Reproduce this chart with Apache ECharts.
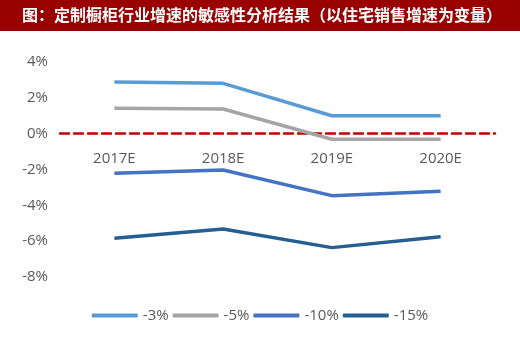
<!DOCTYPE html>
<html><head><meta charset="utf-8">
<script src="https://cdn.jsdelivr.net/npm/echarts@6/dist/echarts.min.js"></script>
<style>html,body{margin:0;padding:0;background:#fff}#c{width:520px;height:363px}</style>
</head><body><div id="c"></div>
<script>
var titleText = '图：定制橱柜行业增速的敏感性分析结果（以住宅销售增速为变量）';
var categories = ['2017E', '2018E', '2019E', '2020E'];
var seriesNames = ['-3%', '-5%', '-10%', '-15%'];
var s3 = [2.88, 2.81, 1.0, 1.0];
var s5 = [1.42, 1.38, -0.31, -0.31];
var s10 = [-2.21, -2.03, -3.46, -3.22];
var s15 = [-5.84, -5.32, -6.36, -5.75];
var yTicks = [-8, -6, -4, -2, 0, 2, 4];
var colors = ['#5B9BD5', '#A5A5A5', '#4472C4', '#255E91'];

var chart = echarts.init(document.getElementById('c'));
var data = [s3, s5, s10, s15];
chart.setOption({
  animation: false,
  graphic: [
    {type: 'rect', left: 0, top: 0, shape: {width: 520, height: 31}, style: {fill: '#990000'}},
    {type: 'text', left: 22, top: 7, style: {text: titleText, fill: '#fff', font: 'bold 16px "Noto Sans CJK SC"'}}
  ],
  grid: {left: 60, right: 25, top: 62, bottom: 86},
  legend: {
    bottom: 35, left: 'center', itemWidth: 46, itemHeight: 4, itemGap: 4,
    icon: 'roundRect',
    textStyle: {color: '#595959', fontSize: 15, fontFamily: 'Open Sans'},
    data: seriesNames
  },
  xAxis: {
    type: 'category', data: categories, boundaryGap: true,
    axisLine: {show: true, onZero: true, lineStyle: {color: '#C00000', type: [9, 5], width: 2.5}},
    axisTick: {show: false},
    axisLabel: {color: '#595959', fontSize: 15, margin: -126, fontFamily: 'Open Sans'}
  },
  yAxis: {
    type: 'value', min: -8, max: 4, interval: 2,
    axisLine: {show: false}, axisTick: {show: false}, splitLine: {show: false},
    axisLabel: {color: '#595959', fontSize: 15, margin: 12, fontFamily: 'Open Sans', formatter: function (v) { return v + '%'; }}
  },
  series: data.map(function (d, i) {
    return {
      name: seriesNames[i], type: 'line', data: d, symbol: 'none',
      lineStyle: {width: 3.5, color: colors[i]}, itemStyle: {color: colors[i]}
    };
  })
});
</script></body></html>
